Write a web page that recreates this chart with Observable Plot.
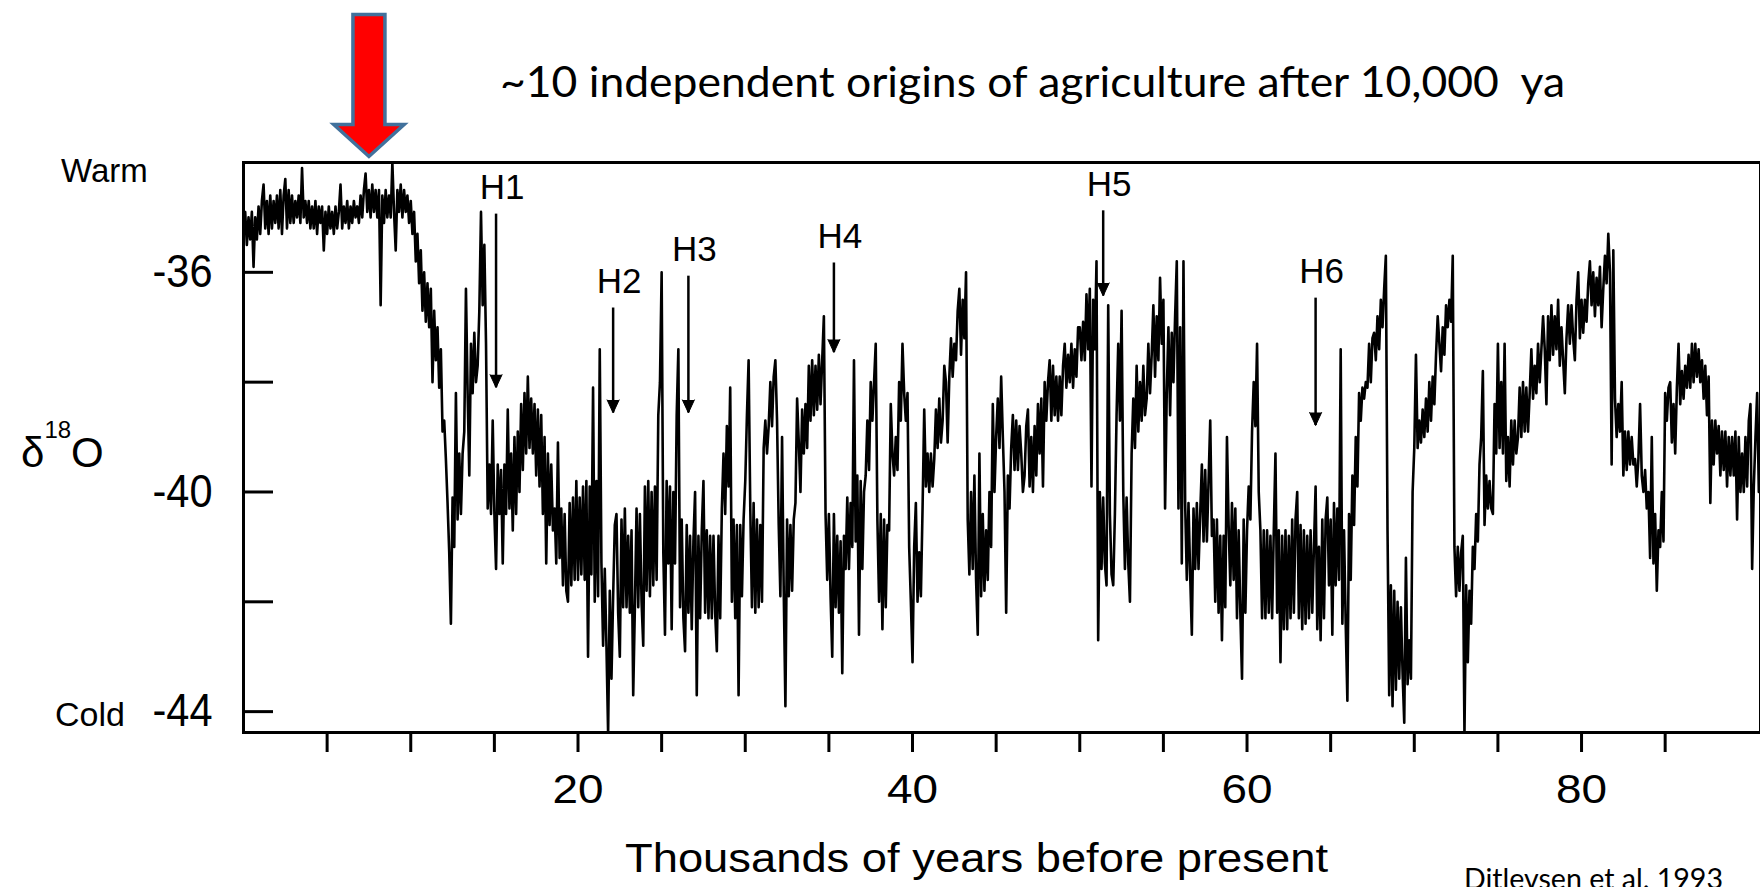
<!DOCTYPE html>
<html>
<head>
<meta charset="utf-8">
<script src="https://cdn.jsdelivr.net/npm/d3@7"></script>
<script src="https://cdn.jsdelivr.net/npm/@observablehq/plot@0.6"></script>
<style>
  html, body { margin: 0; padding: 0; background: #fff; }
  #fig { width: 1760px; height: 887px; overflow: hidden; }
  #fig svg { display: block; }
</style>
</head>
<body>
<div id="fig"></div>
<script>
// Greenland ice-core oxygen-isotope record, one reading every 0.1 kyr from 0 ka
// (each row below covers one thousand years)
const ageStart = 0;
const ageStep = 0.1;
const d18O = [
  -35.3, -34.9, -35.5, -35.0, -35.4, -34.9, -35.9, -35.0, -35.4, -34.8,
  -35.3, -34.7, -34.4, -35.2, -34.7, -35.3, -34.6, -35.2, -34.7, -35.1,
  -34.6, -35.2, -34.5, -35.3, -34.6, -34.3, -35.2, -34.5, -35.1, -34.6,
  -35.1, -34.7, -35.0, -34.6, -35.1, -34.1, -35.0, -34.7, -35.1, -34.7,
  -35.2, -34.8, -35.2, -34.7, -35.3, -34.8, -35.1, -34.8, -35.6, -34.9,
  -35.3, -34.8, -35.2, -34.9, -35.3, -34.8, -35.2, -34.9, -34.4, -35.2,
  -34.8, -35.1, -34.7, -35.2, -34.8, -35.1, -34.7, -35.0, -34.8, -35.1,
  -34.6, -35.0, -34.5, -34.2, -34.9, -34.5, -35.0, -34.4, -34.9, -34.5,
  -35.0, -34.5, -36.6, -34.6, -35.1, -34.5, -35.0, -34.6, -35.0, -34.0,
  -34.9, -35.6, -34.5, -34.9, -34.4, -35.0, -34.5, -34.9, -34.6, -35.1,
  -34.7, -35.3, -34.9, -35.8, -35.3, -36.2, -35.6, -36.7, -36.0, -36.9,
  -36.2, -37.0, -36.3, -38.0, -36.7, -37.6, -37.0, -38.1, -37.4, -38.9,
  -38.7, -39.4, -40.2, -41.1, -42.4, -40.1, -41.0, -38.2, -40.5, -39.3,
  -40.4, -39.3, -38.9, -36.3, -38.2, -39.7, -37.3, -38.2, -37.1, -38.0,
  -37.7, -36.7, -34.9, -36.6, -35.5, -37.3, -40.3, -39.5, -40.4, -38.7,
  -40.4, -41.4, -39.5, -40.4, -39.6, -41.3, -39.5, -40.4, -38.5, -40.3,
  -39.3, -40.7, -39.0, -40.4, -38.9, -40.0, -38.4, -39.6, -38.2, -39.3,
  -37.9, -39.2, -38.3, -39.3, -38.4, -39.7, -38.5, -39.9, -38.6, -40.4,
  -39.0, -41.3, -39.3, -40.6, -39.5, -40.7, -40.3, -41.3, -39.1, -41.2,
  -40.3, -41.7, -40.4, -41.8, -42.0, -40.2, -41.7, -40.1, -41.6, -39.8,
  -41.6, -40.1, -41.5, -39.9, -41.6, -39.8, -43.0, -39.9, -41.5, -38.1,
  -42.0, -39.8, -41.9, -37.4, -41.3, -42.8, -41.4, -42.8, -44.4, -41.8,
  -43.4, -41.9, -40.6, -40.4, -42.2, -43.0, -40.5, -42.1, -40.3, -42.1,
  -40.8, -42.2, -40.7, -43.7, -42.1, -40.3, -42.1, -40.4, -42.0, -42.8,
  -39.9, -41.8, -39.8, -41.9, -40.0, -41.7, -39.9, -41.6, -38.6, -38.0,
  -36.0, -41.1, -42.6, -39.8, -41.3, -39.9, -42.5, -40.0, -41.3, -38.6,
  -37.4, -42.1, -40.5, -42.3, -42.9, -40.6, -42.2, -40.8, -42.5, -40.9,
  -40.0, -43.7, -40.8, -42.3, -40.7, -39.8, -42.2, -40.7, -42.3, -40.8,
  -42.3, -40.8, -42.2, -42.9, -40.8, -42.3, -40.3, -39.3, -40.4, -38.8,
  -39.9, -38.1, -42.0, -40.5, -42.3, -40.6, -43.7, -40.6, -41.9, -40.5,
  -39.8, -38.6, -37.6, -40.3, -42.1, -40.2, -42.2, -40.5, -42.1, -40.6,
  -42.0, -39.2, -38.7, -39.3, -38.8, -38.0, -38.8, -37.9, -37.6, -38.7,
  -40.6, -41.9, -39.0, -41.8, -43.9, -40.5, -41.9, -40.6, -41.8, -40.5,
  -40.2, -38.3, -39.1, -40.0, -38.5, -39.3, -38.4, -39.2, -37.7, -38.7,
  -37.6, -38.6, -37.7, -38.5, -37.5, -38.4, -37.6, -36.8, -40.4, -41.6,
  -40.4, -41.9, -43.0, -40.4, -42.1, -40.8, -42.2, -40.9, -43.3, -40.8,
  -41.4, -40.1, -41.4, -40.2, -41.0, -37.6, -40.9, -39.7, -42.6, -39.8,
  -41.4, -40.0, -39.7, -38.7, -39.6, -38.0, -38.7, -38.0, -37.3, -40.5,
  -42.0, -40.4, -42.5, -40.5, -42.1, -40.6, -40.7, -38.4, -39.3, -39.7,
  -39.0, -39.6, -38.0, -38.7, -37.3, -38.2, -38.7, -38.2, -41.0, -42.0,
  -43.1, -41.0, -40.2, -42.0, -41.1, -41.9, -40.3, -38.5, -39.9, -39.3,
  -40.0, -39.3, -39.9, -39.4, -38.5, -39.2, -38.3, -39.1, -38.7, -37.7,
  -38.0, -39.1, -37.9, -37.2, -37.9, -37.3, -37.6, -36.7, -36.3, -37.5,
  -36.5, -37.2, -36.0, -40.5, -41.5, -40.0, -41.4, -39.7, -41.6, -42.6,
  -39.3, -41.9, -40.4, -41.8, -40.7, -41.6, -40.0, -41.0, -38.4, -40.0,
  -39.0, -38.3, -39.2, -37.9, -39.0, -40.0, -42.2, -39.7, -40.3, -39.2,
  -38.6, -39.6, -38.7, -39.6, -38.8, -39.3, -40.0, -39.7, -38.8, -38.5,
  -39.9, -39.0, -40.0, -38.8, -39.7, -38.4, -39.3, -38.3, -39.9, -38.0,
  -38.7, -38.0, -37.6, -38.7, -37.7, -38.6, -37.9, -38.7, -37.9, -38.6,
  -37.7, -37.3, -38.1, -37.5, -38.0, -37.3, -38.1, -37.4, -37.9, -37.0,
  -37.0, -37.6, -36.9, -37.6, -36.4, -37.4, -36.3, -39.9, -36.5, -37.4,
  -35.8, -42.7, -40.0, -41.4, -40.1, -41.3, -41.7, -36.6, -40.4, -41.5,
  -41.7, -40.4, -38.6, -37.3, -38.7, -36.7, -40.0, -41.4, -40.1, -41.3,
  -42.0, -39.3, -38.3, -39.2, -37.7, -38.9, -38.0, -38.7, -37.7, -38.6,
  -38.3, -37.3, -38.2, -37.5, -36.6, -37.9, -36.8, -37.6, -36.1, -37.3,
  -36.5, -40.3, -38.2, -37.0, -38.6, -37.1, -38.0, -36.8, -35.8, -40.3,
  -37.0, -41.3, -35.8, -40.2, -41.6, -40.2, -41.5, -42.6, -40.3, -41.4,
  -40.2, -41.4, -40.4, -39.5, -40.9, -39.6, -40.9, -39.8, -38.7, -40.8,
  -40.5, -42.0, -40.5, -42.2, -40.8, -42.7, -40.8, -42.1, -39.0, -40.6,
  -41.7, -40.2, -41.6, -40.3, -42.3, -40.7, -42.2, -43.4, -40.5, -42.2,
  -40.7, -39.9, -40.5, -38.9, -38.0, -38.8, -37.3, -40.0, -40.7, -42.3,
  -40.7, -42.3, -40.7, -42.2, -40.8, -42.3, -40.7, -39.3, -42.2, -40.7,
  -43.1, -40.8, -42.5, -40.7, -42.5, -40.8, -42.3, -40.5, -42.2, -40.5,
  -40.0, -42.3, -40.6, -42.5, -40.7, -42.4, -40.8, -42.3, -40.7, -42.2,
  -41.0, -39.9, -42.5, -41.0, -42.7, -40.5, -42.3, -40.5, -40.1, -41.7,
  -40.5, -42.6, -40.2, -41.7, -40.3, -41.6, -37.4, -42.4, -40.7, -42.4,
  -43.8, -40.4, -41.6, -39.7, -40.6, -39.0, -39.9, -38.2, -38.7, -38.1,
  -38.3, -38.0, -38.1, -37.3, -38.0, -37.2, -37.1, -37.6, -36.8, -37.4,
  -36.5, -37.0, -36.3, -35.7, -40.7, -43.7, -41.7, -43.9, -41.8, -43.6,
  -42.0, -43.4, -42.1, -43.3, -44.2, -41.2, -43.5, -42.7, -43.4, -40.0,
  -39.2, -37.5, -39.2, -38.7, -39.1, -38.5, -39.0, -38.3, -38.9, -38.0,
  -38.7, -37.9, -38.4, -37.5, -36.8, -37.3, -37.8, -37.0, -37.5, -36.6,
  -37.0, -36.5, -36.9, -35.7, -41.0, -41.9, -41.0, -41.8, -41.1, -40.8,
  -44.4, -41.7, -43.1, -41.8, -42.4, -41.0, -41.4, -40.4, -40.9, -39.5,
  -39.0, -37.8, -40.6, -39.7, -40.3, -39.8, -40.3, -40.4, -38.4, -39.3,
  -37.3, -39.2, -38.0, -39.3, -37.3, -39.8, -39.0, -39.9, -38.7, -39.5,
  -38.7, -39.3, -39.0, -38.1, -39.0, -38.0, -38.9, -38.1, -38.9, -38.2,
  -37.4, -38.3, -37.7, -38.2, -37.3, -38.0, -37.4, -36.8, -37.4, -38.4,
  -36.8, -37.6, -36.6, -37.5, -36.8, -37.4, -36.5, -37.7, -37.0, -37.6,
  -38.2, -37.2, -36.6, -37.3, -36.6, -37.2, -37.6, -36.5, -36.0, -37.2,
  -36.5, -37.1, -36.5, -36.9, -36.2, -35.8, -36.6, -36.0, -36.8, -36.1,
  -36.6, -35.9, -37.0, -36.3, -35.7, -36.2, -35.3, -36.0, -39.5, -35.6,
  -38.3, -39.0, -38.4, -38.9, -38.0, -39.7, -38.9, -39.6, -38.9, -39.5,
  -39.0, -39.5, -39.4, -39.9, -39.4, -38.4, -39.7, -40.0, -39.6, -40.3,
  -40.0, -41.2, -39.0, -41.3, -40.4, -41.8, -40.7, -41.0, -40.0, -40.9,
  -38.2, -38.7, -38.1, -38.0, -39.1, -38.4, -39.3, -38.1, -37.3, -38.4,
  -37.8, -38.3, -37.7, -38.1, -37.5, -38.1, -37.3, -38.0, -37.3, -37.9,
  -37.4, -38.0, -37.6, -38.3, -37.7, -38.6, -37.9, -40.2, -38.7, -39.5,
  -38.7, -39.3, -38.8, -39.7, -38.9, -39.6, -38.9, -39.9, -39.0, -39.7,
  -39.0, -39.7, -38.9, -40.5, -39.0, -40.0, -39.3, -40.0, -39.0, -39.9,
  -38.7, -38.4, -41.4, -39.9, -39.0, -38.2, -40.0, -39.1, -39.9, -39.2
];

// Heinrich events: label, age (ka) and the arrow's start / end on the δ18O scale
const heinrichLabels = ["H1", "H2", "H3", "H4", "H5", "H6"];
const heinrichAge    = [15.1, 22.1, 26.6, 35.3, 51.4, 64.1];
const heinrichTop    = [-34.94, -36.65, -36.07, -35.83, -34.88, -36.47];
const heinrichTip    = [-38.10, -38.56, -38.56, -37.46, -36.43, -38.79];

// onset of agriculture marker
const agricultureAge = 7.5;

// axes
const xTicks = [5, 10, 15, 20, 25, 30, 35, 40, 45, 50, 55, 60, 65, 70, 75, 80, 85];
const xTickLabels = [20, 40, 60, 80];
const yTicks = [-36, -38, -40, -42, -44];
const yTickLabels = [-36, -40, -44];

const headline = "~10 independent origins of agriculture after 10,000  ya";
const xTitle = "Thousands of years before present";
const source = "Ditlevsen et al. 1993";

const records = d18O.map((v, i) => ({age: +(ageStart + i * ageStep).toFixed(1), d18O: v}));
const events = heinrichLabels.map((label, i) => ({
  label, age: heinrichAge[i], top: heinrichTop[i], tip: heinrichTip[i]
}));

// block arrow drawn base-to-tip along the vector
const blockArrow = {
  draw(context, l, r) {
    const hw = r * 2.2, hl = r * 2.0;
    context.moveTo(-r, 0);
    context.lineTo(-r, -(l - hl));
    context.lineTo(-hw, -(l - hl));
    context.lineTo(0, -l);
    context.lineTo(hw, -(l - hl));
    context.lineTo(r, -(l - hl));
    context.lineTo(r, 0);
    context.closePath();
  }
};

const sans = "'Liberation Sans', Arial, Helvetica, sans-serif";
const humanist = "Lato, 'Open Sans', sans-serif";

const chart = Plot.plot({
  width: 1760,
  height: 887,
  marginLeft: 243,
  marginRight: 0,
  marginTop: 162,
  marginBottom: 155,
  x: {domain: [0, 90.7]},
  y: {domain: [-44.38, -34.0]},
  style: {fontFamily: sans, background: "#fff", color: "#000", overflow: "visible"},
  marks: [
    Plot.line(records, {x: "age", y: "d18O", stroke: "#000", strokeWidth: 2.6, clip: true}),
    Plot.frame({stroke: "#000", strokeWidth: 3}),
    Plot.axisX({
      ticks: xTicks, tickSize: 20, tickPadding: 22, strokeWidth: 3,
      tickFormat: (d) => (xTickLabels.includes(d) ? String(d) : ""),
      fontSize: 40, label: null
    }),
    Plot.axisY({ticks: yTicks, tickSize: -30, strokeWidth: 3, tickFormat: () => "", label: null}),
    Plot.axisY({
      ticks: yTickLabels, tickSize: 0, tickPadding: 31,
      tickFormat: (d) => String(d), fontSize: 46, label: null
    }),
    // Heinrich event arrows and labels
    Plot.ruleX(events, {x: "age", y1: "top", y2: "tip", stroke: "#000", strokeWidth: 2.5}),
    Plot.vector(events, {
      x: "age", y: "tip", anchor: "end", rotate: 180, length: 13, r: 6,
      shape: "spike", fill: "#000", stroke: "#000", strokeWidth: 1
    }),
    Plot.text(events, {
      x: "age", y: "top", text: "label", dx: 6, dy: -15,
      lineAnchor: "bottom", fontSize: 35, fill: "#000"
    }),
    // agriculture arrow above the frame
    Plot.vector([agricultureAge], {
      x: (d) => d, frameAnchor: "top", dy: -6, anchor: "end", rotate: 180,
      length: 142, r: 16, shape: blockArrow,
      fill: "#ff0000", stroke: "#41719c", strokeWidth: 3.5, strokeLinejoin: "miter"
    })
  ]
});

document.getElementById("fig").appendChild(chart);

const svg = d3.select(chart);

// narrow the numeric y labels, widen the x labels
svg.selectAll('g[aria-label="y-axis tick label"] text')
  .filter(function () { return this.textContent.length > 0; })
  .attr("textLength", 60).attr("lengthAdjust", "spacingAndGlyphs");
svg.selectAll('g[aria-label="x-axis tick label"] text')
  .filter(function () { return this.textContent.length > 0; })
  .attr("textLength", 51).attr("lengthAdjust", "spacingAndGlyphs");

const ann = svg.append("g").attr("fill", "#000").attr("text-anchor", "start");

ann.append("text")
  .attr("x", 500).attr("y", 97)
  .attr("font-family", humanist).attr("font-size", 43)
  .attr("textLength", 1065).attr("lengthAdjust", "spacingAndGlyphs")
  .style("white-space", "pre")
  .text(headline);

ann.append("text")
  .attr("x", 61).attr("y", 182)
  .attr("font-family", sans).attr("font-size", 33)
  .text("Warm");

ann.append("text")
  .attr("x", 55).attr("y", 726)
  .attr("font-family", sans).attr("font-size", 34)
  .text("Cold");

const dlabel = ann.append("text")
  .attr("x", 21).attr("y", 467)
  .attr("font-family", sans).attr("font-size", 42);
dlabel.append("tspan").text("δ");
dlabel.append("tspan").attr("font-size", 24).attr("dy", -29).text("18");
dlabel.append("tspan").attr("dy", 29).text("O");

ann.append("text")
  .attr("x", 625).attr("y", 872)
  .attr("font-family", sans).attr("font-size", 40)
  .attr("textLength", 703).attr("lengthAdjust", "spacingAndGlyphs")
  .text(xTitle);

ann.append("text")
  .attr("x", 1464).attr("y", 889)
  .attr("font-family", humanist).attr("font-size", 29)
  .attr("textLength", 259).attr("lengthAdjust", "spacingAndGlyphs")
  .text(source);
</script>
</body>
</html>
